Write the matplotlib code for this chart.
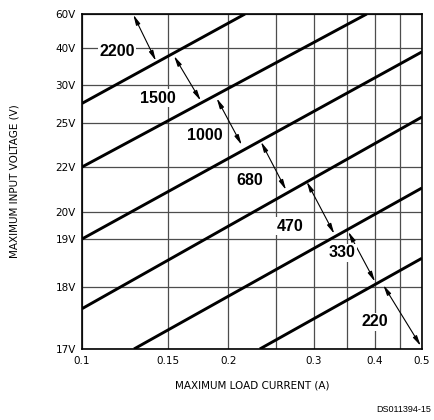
import numpy as np
import matplotlib
matplotlib.use("Agg")
import matplotlib.pyplot as plt

# ---- data ----
y_ticks = [17, 18, 19, 20, 22, 25, 30, 40, 60]
y_tick_labels = ["17V", "18V", "19V", "20V", "22V", "25V", "30V", "40V", "60V"]
# relative positions of the (non-uniform) voltage scale
y_scale_pos = [0, 62, 110, 137, 182, 226, 263.7, 301.3, 335]

x_ticks = [0.1, 0.15, 0.2, 0.3, 0.4, 0.5]
x_tick_labels = ["0.1", "0.15", "0.2", "0.3", "0.4", "0.5"]
x_minor = [0.25, 0.35, 0.45]

# boundary lines: (x0, v0, x1, v1)
line_x0 = [0.1, 0.1, 0.1, 0.1, 0.1279, 0.232]
line_v0 = [27.6, 22.0, 19.0, 17.65, 17.0, 17.0]
line_x1 = [0.2163, 0.3849, 0.5, 0.5, 0.5, 0.5]
line_v1 = [60.0, 60.0, 38.9, 25.8, 21.07, 18.6]

# region labels
region_labels = ["2200", "1500", "1000", "680", "470", "330", "220"]
label_x = [0.1180, 0.1435, 0.1790, 0.2215, 0.2677, 0.3419, 0.4003]
label_v = [39.1, 28.28, 24.18, 21.42, 19.48, 18.71, 17.44]

# double-headed arrows
arrow_x0 = [0.1275, 0.1546, 0.1892, 0.2333, 0.2897, 0.3527, 0.4163]
arrow_v0 = [59.6, 37.8, 28.28, 23.72, 21.35, 19.27, 18.04]
arrow_x1 = [0.1419, 0.1754, 0.2130, 0.2627, 0.3301, 0.4003, 0.4970]
arrow_v1 = [36.5, 27.96, 23.5, 20.98, 19.19, 18.11, 17.05]


def fwd(v):
    return np.interp(v, y_ticks, y_scale_pos)


def inv(p):
    return np.interp(p, y_scale_pos, y_ticks)


fig = plt.figure(figsize=(4.34, 4.20), dpi=100)
ax = fig.add_axes([82 / 434, 1 - 349 / 420, 340 / 434, 335 / 420])
ax.set_xscale("log")
ax.set_yscale("function", functions=(fwd, inv))
ax.set_xlim(0.1, 0.5)
ax.set_ylim(17, 60)

tick_font = dict(family="DejaVu Sans", size=7.5)
ax.set_xticks(x_ticks)
ax.set_xticklabels(x_tick_labels, **tick_font)
ax.set_xticks(x_minor, minor=True)
ax.xaxis.set_minor_formatter(matplotlib.ticker.NullFormatter())
ax.set_yticks(y_ticks)
ax.set_yticklabels(y_tick_labels, **tick_font)
ax.yaxis.set_minor_locator(matplotlib.ticker.NullLocator())
ax.tick_params(which="both", length=0)
ax.tick_params(axis="x", pad=5)
ax.tick_params(axis="y", pad=4.5)

ax.grid(True, which="both", color="#4d4d4d", linewidth=0.9)
ax.set_axisbelow(True)
for s in ax.spines.values():
    s.set_linewidth(1.2)
    s.set_color("black")

for x0, v0, x1, v1 in zip(line_x0, line_v0, line_x1, line_v1):
    ax.plot([x0, x1], [v0, v1], color="black", linewidth=2.1,
            solid_capstyle="butt", zorder=3, clip_on=True)

for x0, v0, x1, v1 in zip(arrow_x0, arrow_v0, arrow_x1, arrow_v1):
    ax.annotate("", xy=(x1, v1), xytext=(x0, v0),
                arrowprops=dict(arrowstyle="<|-|>,head_length=0.6,head_width=0.13",
                                color="black", linewidth=0.8,
                                shrinkA=0, shrinkB=0),
                zorder=4)

for t, x, v in zip(region_labels, label_x, label_v):
    ax.text(x, v, t, ha="center", va="center", family="Liberation Sans",
            fontweight="bold", fontsize=11.5, zorder=5,
            bbox=dict(facecolor="white", edgecolor="none", pad=1.0))

fig.text(15 / 434, 1 - 181 / 420, "MAXIMUM INPUT VOLTAGE (V)", rotation=90,
         ha="center", va="center", family="DejaVu Sans", fontsize=7.5)
fig.text(252 / 434, 1 - 386 / 420, "MAXIMUM LOAD CURRENT (A)",
         ha="center", va="center", family="DejaVu Sans", fontsize=7.5)
fig.text(431 / 434, 1 - 409 / 420, "DS011394-15", ha="right", va="center",
         family="Liberation Sans", fontsize=6.5)

fig.savefig("out.png", dpi=100)
